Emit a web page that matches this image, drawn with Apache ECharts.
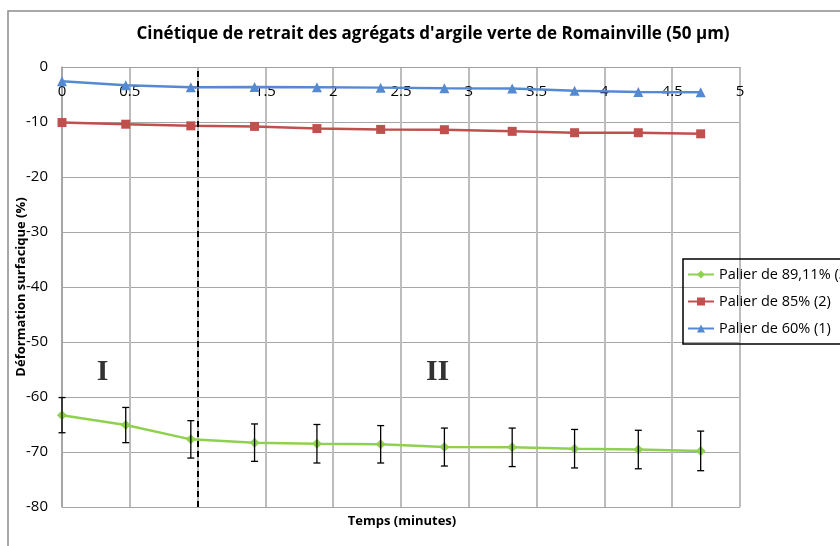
<!DOCTYPE html>
<html>
<head>
<meta charset="utf-8">
<script src="https://cdn.jsdelivr.net/npm/echarts@6/dist/echarts.min.js"></script>
<style>
  html, body { margin: 0; padding: 0; background: #fff; }
  #chart { width: 840px; height: 546px; }
</style>
</head>
<body>
<div id="chart"></div>
<script>
// Time of each measurement (minutes)
const times = [0, 0.47, 0.95, 1.42, 1.88, 2.35, 2.82, 3.32, 3.78, 4.25, 4.71];

// Surface deformation (%) for each humidity step
const palier60 = [-2.6, -3.3, -3.7, -3.65, -3.7, -3.75, -3.85, -3.9, -4.3, -4.55, -4.6];
const palier85 = [-10.1, -10.4, -10.7, -10.8, -11.2, -11.35, -11.4, -11.7, -11.95, -11.95, -12.15];
const palier8911 = [-63.3, -65.1, -67.7, -68.3, -68.5, -68.6, -69.1, -69.15, -69.4, -69.55, -69.8];
// Standard deviation for the 89.11 % step
const erreur8911 = [3.2, 3.2, 3.4, 3.4, 3.5, 3.4, 3.45, 3.5, 3.5, 3.5, 3.6];

const seriesNames = ['Palier de 89,11% (3)', 'Palier de 85% (2)', 'Palier de 60% (1)'];
const xTicks = { min: 0, max: 5, interval: 0.5 };
const yTicks = { min: -80, max: 0, interval: 10 };
const phaseLabels = [{ text: 'I', x: 0.3, y: -55.5 }, { text: 'II', x: 2.77, y: -55.5 }];
const phaseLimit = 1;

const font = '"Open Sans", sans-serif';

const zip = (xs, ys) => xs.map((x, i) => [x, ys[i]]);
const errData = times.map((t, i) => [t, palier8911[i] - erreur8911[i], palier8911[i] + erreur8911[i]]);

const chart = echarts.init(document.getElementById('chart'));
chart.setOption({
  animation: false,
  backgroundColor: '#fff',
  title: {
    text: "Cinétique de retrait des agrégats d'argile verte de Romainville (50 µm)",
    left: 428, top: 21, textAlign: 'center',
    textStyle: { fontFamily: font, fontSize: 17, fontWeight: 'bold', color: '#000' }
  },
  grid: { left: 62, right: 100, top: 67, bottom: 39 },
  legend: {
    left: 683, top: 259, orient: 'vertical', itemGap: 12,
    itemWidth: 26, itemHeight: 10,
    borderColor: '#000', borderWidth: 1.5, padding: [8, 40, 8, 4],
    data: seriesNames,
    textStyle: { fontFamily: font, fontSize: 14.5, color: '#000' }
  },
  xAxis: {
    type: 'value', position: 'top', min: xTicks.min, max: xTicks.max, interval: xTicks.interval,
    axisLine: { lineStyle: { color: '#a0a0a0', width: 1 } },
    axisTick: { show: false },
    axisLabel: { inside: true, fontFamily: font, fontSize: 15, color: '#000', margin: 17 },
    splitLine: { show: true, lineStyle: { color: '#bdbdbd', width: 2 } }
  },
  yAxis: {
    type: 'value', min: yTicks.min, max: yTicks.max, interval: yTicks.interval,
    axisLine: { show: true, lineStyle: { color: '#a0a0a0', width: 1.5 } },
    axisTick: { show: false },
    axisLabel: { fontFamily: font, fontSize: 15, color: '#000', margin: 14 },
    splitLine: { show: true, lineStyle: { color: '#a6a6a6', width: 1 } }
  },
  graphic: [
    { type: 'rect', shape: { x: 8, y: 11, width: 900, height: 600 }, style: { fill: 'none', stroke: '#8c8c8c', lineWidth: 1.5 }, z: 0 },
    { type: 'text', x: 402, y: 521, style: { text: 'Temps (minutes)', fontFamily: font, fontSize: 13, fontWeight: 'bold', fill: '#000', align: 'center', verticalAlign: 'middle' } },
    { type: 'text', x: 21, y: 287, rotation: Math.PI / 2, style: { text: 'Déformation surfacique (%)', fontFamily: font, fontSize: 13, fontWeight: 'bold', fill: '#000', align: 'center', verticalAlign: 'middle' } }
  ],
  series: [
    {
      name: seriesNames[0], type: 'line', data: zip(times, palier8911),
      color: '#8fd14f', lineStyle: { width: 2.5 }, symbol: 'diamond', symbolSize: 10,
      itemStyle: { color: '#8fd14f' }, z: 3,
      markLine: {
        silent: true, symbol: 'none', label: { show: false },
        lineStyle: { color: '#000', type: [6, 4], width: 2 },
        data: [{ xAxis: phaseLimit }]
      }
    },
    {
      name: seriesNames[1], type: 'line', data: zip(times, palier85),
      color: '#c0504d', lineStyle: { width: 2.5 }, symbol: 'rect', symbolSize: 9,
      itemStyle: { color: '#c0504d' }, z: 3
    },
    {
      name: seriesNames[2], type: 'line', data: zip(times, palier60),
      color: '#558ad3', lineStyle: { width: 2.5 }, symbol: 'triangle', symbolSize: 10,
      itemStyle: { color: '#558ad3' }, z: 3
    },
    {
      type: 'custom', name: 'erreur', data: errData, z: 4,
      renderItem: (params, api) => {
        const x = api.value(0);
        const lo = api.coord([x, api.value(1)]);
        const hi = api.coord([x, api.value(2)]);
        const c = 3.5;
        const st = { stroke: '#000', lineWidth: 1.3 };
        return {
          type: 'group', children: [
            { type: 'line', shape: { x1: lo[0], y1: lo[1], x2: hi[0], y2: hi[1] }, style: st },
            { type: 'line', shape: { x1: lo[0] - c, y1: lo[1], x2: lo[0] + c, y2: lo[1] }, style: st },
            { type: 'line', shape: { x1: hi[0] - c, y1: hi[1], x2: hi[0] + c, y2: hi[1] }, style: st }
          ]
        };
      }
    },
    {
      type: 'scatter', data: phaseLabels.map(p => [p.x, p.y, p.text]), symbolSize: 0, silent: true,
      label: {
        show: true, position: 'inside', formatter: p => p.value[2],
        fontFamily: '"Liberation Serif", "DejaVu Serif", serif', fontSize: 30, fontWeight: 'bold', color: '#000'
      }
    }
  ]
});
</script>
</body>
</html>
